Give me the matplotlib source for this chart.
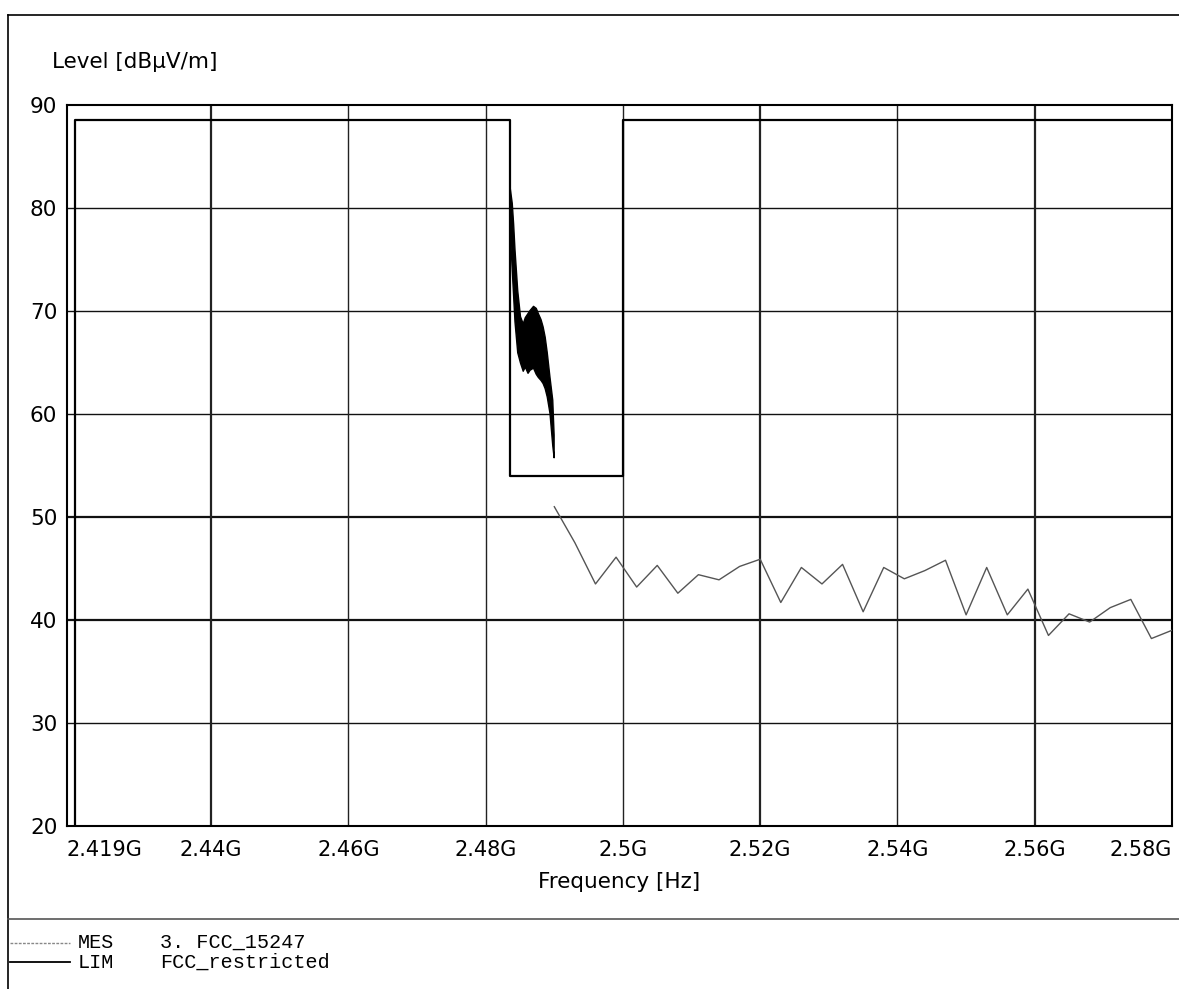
import matplotlib
matplotlib.use("Agg")
import matplotlib.pyplot as plt
from matplotlib.lines import Line2D

# ---- data ----
mes_freq_ghz = [2.4900, 2.4930, 2.4960, 2.4990, 2.5020, 2.5050, 2.5080, 2.5110,
                2.5140, 2.5170, 2.5200, 2.5230, 2.5260, 2.5290, 2.5320, 2.5350,
                2.5380, 2.5410, 2.5440, 2.5470, 2.5500, 2.5530, 2.5560, 2.5590,
                2.5620, 2.5650, 2.5680, 2.5710, 2.5740, 2.5770, 2.5800]
mes_level = [51.0, 47.5, 43.5, 46.1, 43.2, 45.3, 42.6, 44.4,
             43.9, 45.2, 45.9, 41.7, 45.1, 43.5, 45.4, 40.8,
             45.1, 44.0, 44.8, 45.8, 40.5, 45.1, 40.5, 43.0,
             38.5, 40.6, 39.8, 41.2, 42.0, 38.2, 39.0]

burst_freq_ghz = [2.4835, 2.4838, 2.4840, 2.4842, 2.4846, 2.4850, 2.4854, 2.4857,
                  2.4861, 2.4864, 2.4869, 2.4873, 2.4876, 2.4880, 2.4883, 2.4886,
                  2.4889, 2.4893, 2.4897, 2.4899]
burst_upper = [82.0, 80.5, 78.5, 76.0, 72.0, 69.5, 68.8, 69.4,
               69.8, 70.1, 70.5, 70.3, 69.8, 69.2, 68.5, 67.5,
               66.0, 63.6, 61.4, 58.0]
burst_lower = [78.0, 74.0, 71.5, 69.0, 66.0, 65.0, 64.2, 64.6,
               64.0, 64.3, 64.5, 63.9, 63.6, 63.3, 63.0, 62.5,
               61.7, 60.1, 57.0, 55.8]

lim_freq_ghz = [2.4202, 2.4202, 2.4835, 2.4835, 2.5000, 2.5000, 2.5800]
lim_level = [0.0, 88.5, 88.5, 54.0, 54.0, 88.5, 88.5]

x_ticks = [2.419, 2.44, 2.46, 2.48, 2.5, 2.52, 2.54, 2.56, 2.58]
x_tick_labels = ["2.419G", "2.44G", "2.46G", "2.48G", "2.5G", "2.52G", "2.54G", "2.56G", "2.58G"]
y_ticks = [20, 30, 40, 50, 60, 70, 80, 90]

# ---- figure ----
W, H = 1179, 989
fig = plt.figure(figsize=(W / 100, H / 100), dpi=100)
ax = fig.add_axes([67 / W, 1 - 826 / H, (1172 - 67) / W, (826 - 105) / H])
ax.set_xlim(2.419, 2.58)
ax.set_ylim(20, 90)

# grid
for yv in y_ticks[1:-1]:
    lw = 1.6 if yv in (40, 50) else 1.0
    ax.axhline(yv, color="#111111", lw=lw, zorder=1)
for xv in x_ticks[1:-1]:
    lw = 1.6 if xv in (2.44, 2.52, 2.56) else 1.0
    ax.axvline(xv, color="#222222", lw=lw, zorder=1)

# limit line
ax.plot(lim_freq_ghz, lim_level, color="black", lw=1.6, zorder=3)

# measurement
ax.fill_between(burst_freq_ghz, burst_lower, burst_upper, color="black", lw=1.0,
                edgecolor="black", zorder=4)
ax.plot(mes_freq_ghz, mes_level, color="#555555", lw=1.0, zorder=4)

for s in ax.spines.values():
    s.set_linewidth(1.5)
    s.set_color("black")

ax.set_xticks(x_ticks)
ax.set_xticklabels(x_tick_labels, fontsize=15)
ax.set_yticks(y_ticks)
ax.set_yticklabels([str(v) for v in y_ticks], fontsize=15.5)
ax.tick_params(axis="x", length=0, pad=10)
ax.tick_params(axis="y", length=0, pad=7)
labs = ax.get_xticklabels()
labs[0].set_horizontalalignment("left")
labs[-1].set_horizontalalignment("right")
ax.set_xlabel("Frequency [Hz]", fontsize=15.5, labelpad=9)

fig.text(52 / W, 1 - 62 / H, "Level [dBµV/m]", fontsize=15.5, va="center", ha="left")

# outer frame and legend separator
fig.add_artist(Line2D([8 / W, 8 / W], [0, 1 - 15 / H], color="black", lw=1.2))
fig.add_artist(Line2D([8 / W, 1], [1 - 15 / H, 1 - 15 / H], color="black", lw=1.2))
fig.add_artist(Line2D([8 / W, 1], [1 - 919 / H, 1 - 919 / H], color="#555555", lw=1.2))

# legend
fig.add_artist(Line2D([10 / W, 70 / W], [1 - 943 / H] * 2, color="#888888", lw=1.0, ls=(0, (2, 1))))
fig.add_artist(Line2D([10 / W, 70 / W], [1 - 962 / H] * 2, color="black", lw=1.3))
mono = dict(family="Liberation Mono", fontsize=14.5, va="center", ha="left")
fig.text(78 / W, 1 - 942 / H, "MES", **mono)
fig.text(160 / W, 1 - 942 / H, "3. FCC_15247", **mono)
fig.text(78 / W, 1 - 962 / H, "LIM", **mono)
fig.text(160 / W, 1 - 962 / H, "FCC_restricted", **mono)

fig.savefig("out.png", dpi=100)
